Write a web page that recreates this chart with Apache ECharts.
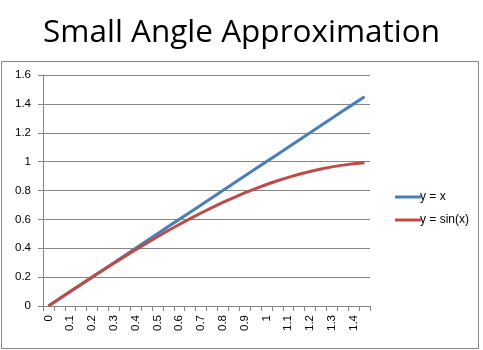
<!DOCTYPE html>
<html>
<head>
<meta charset="utf-8">
<script src="https://cdn.jsdelivr.net/npm/echarts@6/dist/echarts.min.js"></script>
<style>
  html, body { margin: 0; padding: 0; background: #fff; }
  #chart { width: 483px; height: 350px; }
</style>
</head>
<body>
<div id="chart"></div>
<script>
// Angle in radians, sampled every 0.05
const angles = ['0','0.05','0.1','0.15','0.2','0.25','0.3','0.35','0.4','0.45',
  '0.5','0.55','0.6','0.65','0.7','0.75','0.8','0.85','0.9','0.95',
  '1','1.05','1.1','1.15','1.2','1.25','1.3','1.35','1.4','1.45'];

const lineValues = [0,0.05,0.1,0.15,0.2,0.25,0.3,0.35,0.4,0.45,
  0.5,0.55,0.6,0.65,0.7,0.75,0.8,0.85,0.9,0.95,
  1,1.05,1.1,1.15,1.2,1.25,1.3,1.35,1.4,1.45];

const sineValues = [0,0.05,0.0998,0.1494,0.1987,0.2474,0.2955,0.3429,0.3894,0.435,
  0.4794,0.5227,0.5646,0.6052,0.6442,0.6816,0.7174,0.7513,0.7833,0.8134,
  0.8415,0.8674,0.8912,0.9128,0.932,0.949,0.9636,0.9757,0.9854,0.9927];

const yTicks = [0, 0.2, 0.4, 0.6, 0.8, 1, 1.2, 1.4, 1.6];

const chart = echarts.init(document.getElementById('chart'));
const labelFont = 'Liberation Sans, Arial, sans-serif';

chart.setOption({
  animation: false,
  title: {
    text: 'Small Angle Approximation',
    left: 'center',
    top: 12,
    textStyle: { fontFamily: 'Open Sans, sans-serif', fontSize: 31.5, fontWeight: 'normal', color: '#000' }
  },
  graphic: [{
    type: 'rect',
    shape: { x: 1.5, y: 61.5, width: 477, height: 287 },
    style: { fill: 'none', stroke: '#868686', lineWidth: 1 },
    silent: true
  }],
  legend: {
    orient: 'vertical',
    left: 390,
    top: 186,
    itemWidth: 26,
    itemHeight: 3,
    itemGap: 11,
    icon: 'rect',
    textStyle: { fontFamily: labelFont, fontSize: 12, color: '#000', padding: [0, 0, 0, -6] },
    data: ['y = x', 'y = sin(x)']
  },
  grid: { left: 43, right: 113, top: 75, bottom: 44, containLabel: false },
  xAxis: {
    type: 'category',
    data: angles,
    boundaryGap: true,
    axisLine: { lineStyle: { color: '#868686', width: 1 } },
    axisTick: { show: true, interval: 0, length: 5, lineStyle: { color: '#868686' } },
    axisLabel: {
      interval: 1,
      rotate: 90,
      margin: 9,
      fontFamily: labelFont,
      fontSize: 11.5,
      color: '#000'
    },
    splitLine: { show: false }
  },
  yAxis: {
    type: 'value',
    min: yTicks[0],
    max: yTicks[yTicks.length - 1],
    interval: 0.2,
    axisLine: { show: true, lineStyle: { color: '#868686', width: 1 } },
    axisTick: { show: true, length: 5, lineStyle: { color: '#868686' } },
    axisLabel: {
      margin: 12,
      fontFamily: labelFont,
      fontSize: 11.5,
      color: '#000',
      formatter: v => String(Math.round(v * 10) / 10)
    },
    splitLine: { show: true, lineStyle: { color: '#868686', width: 1 } }
  },
  series: [
    {
      name: 'y = x',
      type: 'line',
      data: lineValues,
      symbol: 'none',
      color: '#4A7EBB',
      lineStyle: { width: 3, color: '#4A7EBB' }
    },
    {
      name: 'y = sin(x)',
      type: 'line',
      data: sineValues,
      symbol: 'none',
      color: '#BE4B48',
      lineStyle: { width: 3, color: '#BE4B48' }
    }
  ]
});
</script>
</body>
</html>
